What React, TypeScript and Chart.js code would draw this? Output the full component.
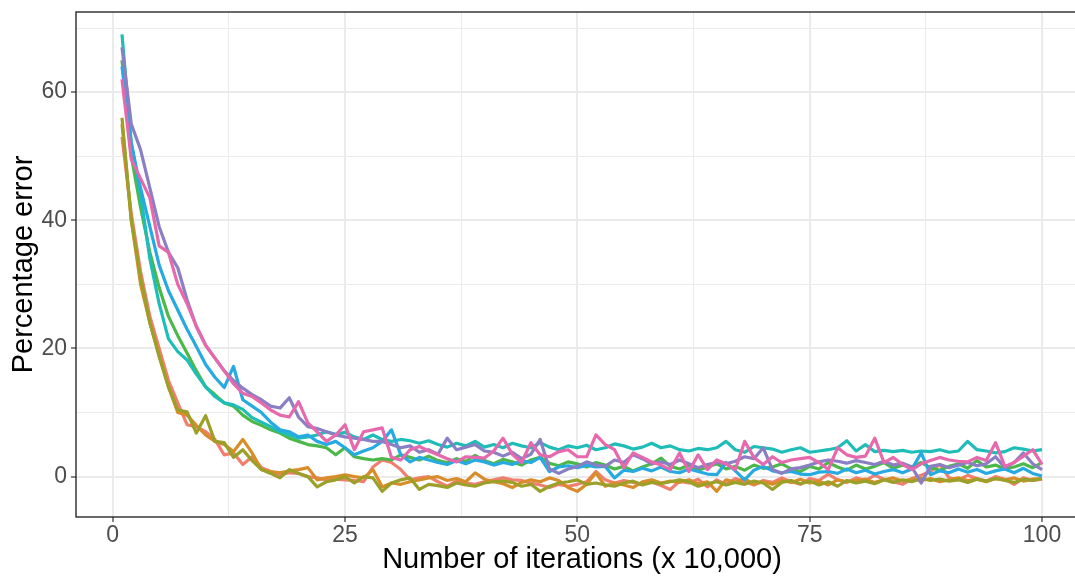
import React, { useEffect, useRef } from 'react';
import { Chart, registerables } from 'chart.js';

Chart.register(...registerables);

const iterations = [
  1, 2, 3, 4, 5, 6, 7, 8, 9, 10, 11, 12, 13, 14, 15, 16, 17, 18, 19, 20,
  21, 22, 23, 24, 25, 26, 27, 28, 29, 30, 31, 32, 33, 34, 35, 36, 37, 38, 39, 40,
  41, 42, 43, 44, 45, 46, 47, 48, 49, 50, 51, 52, 53, 54, 55, 56, 57, 58, 59, 60,
  61, 62, 63, 64, 65, 66, 67, 68, 69, 70, 71, 72, 73, 74, 75, 76, 77, 78, 79, 80,
  81, 82, 83, 84, 85, 86, 87, 88, 89, 90, 91, 92, 93, 94, 95, 96, 97, 98, 99, 100,
];

const runSalmon = [
  53, 41, 32, 25, 20, 15, 11.5, 8.1, 7.8, 7,
  5.8, 3.4, 3.7, 1.9, 3.1, 1.4, 0.8, 0.3, 0.6, 0.5,
  0, -0.2, -0.5, -0.4, -0.5, -0.6, -0.8, 1.5, 2.6, 2.2,
  1.1, -0.5, -0.2, 0, -0.8, -1.5, -0.7, -1, -1.2, -0.8,
  -0.5, -0.2, -0.5, -0.6, -1, -1.3, -1.7, -1.2, -1.5, -1.2,
  -0.8, 0.8, -0.5, -1, -0.6, -0.9, -1.2, -0.8, -1.4, -2,
  -0.7, -1, -0.4, -1.6, -0.5, -1.2, -0.3, -0.8, -1.3, -0.6,
  -0.9, -0.2, -0.8, -1.2, -0.3, -0.6, 0.4, -0.5, -0.9, -0.2,
  -0.6, 0.2, -0.4, -0.8, -1.2, -0.3, 0.2, 0.8, 1.9, -0.2,
  -0.5, 0.2, -0.3, -0.7, 0, -0.4, -1.2, -0.2, -0.6, -0.4,
];

const runOrange = [
  55, 40, 30, 24, 19, 14, 10, 9.6, 8, 6.5,
  5.5, 5, 3.9, 5.8, 3.7, 1.1, 0.8, 0.6, 0.9, 1.1,
  1.4, -0.5, -0.2, 0, 0.3, 0, -0.2, 1.1, -1.6, -1,
  -1.2, -0.8, -0.5, -0.2, 0, -0.6, -0.3, -0.8, 0.6, -0.4,
  -0.8, -1.1, -1.7, -0.9, -0.5, -0.8, -0.2, -0.6, -1.7, -2.3,
  -1.2, 0.6, -1.5, -1, -1.3, -1.7, -0.8, -0.5, -1, -0.7,
  -0.9, -0.5, -1.1, -0.8, -2.3, -0.5, -0.9, -0.3, -1.2, -0.8,
  -1.2, -0.6, -0.9, -0.4, -1, -0.7, -1.3, -0.5, -0.8, -0.6,
  -0.4, -0.9, -0.5, -0.2, -0.7, -0.4, -0.6, -0.3, -0.8, -0.5,
  -0.2, -0.6, -0.4, -0.8, -0.3, -0.5, -0.2, -0.7, -0.4, -0.3,
];

const runOlive = [
  56, 40, 31, 24, 18.7, 14, 10.4, 10.1, 6.8, 9.5,
  5.5, 5.3, 3, 4.2, 2.5, 1.1, 0.5, -0.2, 1.1, 0.5,
  0, -1.6, -0.8, -0.5, 0, -1, 0, -0.2, -2.3, -1,
  -0.5, -0.2, -2, -1.2, -1.4, -1.7, -1, -1.3, -1.5, -1,
  -0.8, -0.7, -0.9, -1.5, -1.2, -2.3, -1.5, -1, -0.8, -0.5,
  -1.2, -1, -1.3, -1.5, -1, -0.7, -1.3, -0.9, -1.1, -0.8,
  -0.5, -0.8, -1.5, -1.1, -0.8, -1.3, -0.9, -1.2, -0.7, -1,
  -2, -0.9, -0.6, -1.1, -0.7, -1.3, -0.8, -1.5, -0.6, -1,
  -0.7, -1.1, -0.5, -0.9, -0.5, -0.8, -0.3, -0.6, -0.4, -0.7,
  -0.5, -0.9, -0.4, -0.7, -0.3, -0.6, -0.9, -0.4, -0.6, -0.3,
];

const runGreen = [
  65, 50, 42, 35, 29.5, 25, 22, 19.3, 16.5, 14,
  12.8, 11.5, 11, 9.6, 8.6, 8, 7.3, 6.8, 6, 5.5,
  5, 4.8, 4.5, 3.4, 4.5, 3.1, 2.8, 2.6, 2.8, 2.6,
  3.4, 3, 2.6, 3.2, 2.5, 2.2, 2.8, 2.4, 3.3, 2.5,
  2, 2.7, 2.3, 1.8, 2.6, 3, 2.1, 1.7, 2.3, 2,
  1.5, 2.2, 1.8, 1.2, 1.6, 0.9, 1.5, 2, 2.9, 1.6,
  1.2, 1.8, 1, 1.5, 2, 1.2, 1.6, 1, 1.8, 1.3,
  1.5, 2, 1.2, 0.8, 1.6, 1.2, 2.2, 1.5, 1, 1.8,
  1.2, 1.6, 2.2, 1.3, 1.8, 1.5, 2.2, 1.4, 1, 1.6,
  2, 1.3, 2.5, 1.5, 1.8, 1.2, 1.5, 2, 1.4, 2.2,
];

const runTeal = [
  69, 52, 44, 34, 27, 21.5, 19.5, 18.2, 16, 14,
  12.5, 11.5, 11.2, 10.5, 9.2, 8.5, 7.8, 7, 6.5, 6,
  6.2, 6.5, 7, 6.6, 6.9, 6.2, 5.8, 6.5, 5.8, 5.5,
  5.8, 5.6, 5.2, 5.6, 5, 4.6, 5.2, 4.8, 5.5, 4.6,
  5, 4.5, 5.2, 4.8, 4.5, 5.3, 4.6, 4.2, 4.8, 4.5,
  4.9, 4.2, 4.5, 5.1, 4.8, 4.3, 4.6, 5.2, 4.5, 4.8,
  4.2, 4, 4.4, 4.2, 4.5, 5.5, 4.2, 3.8, 4.7, 4.5,
  4.3, 3.8, 4.2, 4.5, 3.8, 4, 4.2, 4.5, 5.6, 4,
  5, 3.9, 4.1, 3.9, 4.1, 3.8, 4, 3.9, 4.2, 3.8,
  4, 5.5, 4.2, 4, 3.7, 3.9, 4.5, 4.3, 4, 4.2,
];

const runBlue = [
  64, 52, 45, 39, 33, 29, 26, 23, 20.3, 17.5,
  15.5, 13.9, 17.2, 12, 11, 10, 8.5, 7.3, 7, 6.2,
  6.5, 5.5, 5, 5.5, 4.5, 3.4, 4, 4.5, 5.5, 7.3,
  3.4, 2.3, 3, 2.6, 2.2, 1.9, 2.5, 2, 2.6, 2.3,
  1.8, 2.2, 1.9, 2.5, 2.2, 3, 0.8, 1.5, 1.7, 1.4,
  1.8, 1.5, 1.6, -0.2, 1, 0.8, 1.3, 0.9, 1.5, 0.8,
  0.6, 1.2, 0.8, 0.4, 0.3, 2.2, 0.9, -0.5, 1, 1.6,
  0.9, 0.6, 0.8, 0.4, 0.3, 0.7, 0.8, 0.5, 1.2, 0.6,
  1, 0.4, 0.8, 1.1, 0.6, 1.2, 3.7, 0.3, 0.9, 0.6,
  1.2, 0.7, 1.1, 0.5, 0.9, 1.2, 0.6, 1.3, 0.5, 0.1,
];

const runPurple = [
  67, 55, 51, 45, 39, 35, 32.6, 27.6, 23.4, 20.5,
  18.5, 16.5, 15, 13.8, 12.8, 12, 11, 10.7, 12.3, 9.3,
  7.8, 7.5, 7, 6.5, 6.2, 6, 5.8, 5.5, 5.5, 5,
  4.5, 4.8, 3.8, 4.2, 3.5, 6, 4.2, 4.6, 5, 4,
  3.8, 3.2, 3.8, 2.8, 3.5, 5.8, 1.2, 0.5, 1.2, 1.6,
  2.3, 1.8, 1.6, 2.6, 2.2, 3.4, 2.8, 2, 2.3, 1.9,
  2.6, 2, 1.4, 1.9, 2.2, 2, 2.4, 3.1, 2.8, 4.5,
  1.1, 0.5, 1.2, 1.4, 1.8, 2.3, 2.6, 2.4, 2.1, 2.5,
  2.2, 1.9, 2.4, 1.8, 2.1, 1.5, -1, 1.6, 1.9, 1.4,
  1.8, 2.2, 1.7, 2, 3.1, 1.4, 2.2, 3.7, 2, 1.1,
];

const runPink = [
  62, 49.5, 46.5, 43.5, 36, 35, 30, 27, 23.5, 20.5,
  18.5, 16.5, 14.5, 13, 12.5, 11.5, 10.4, 9.6, 9.3, 11.7,
  8.4, 7, 5.5, 6.5, 8.1, 4.2, 7, 7.3, 7.6, 3,
  2.6, 4.2, 4.7, 4, 3.4, 2.8, 2.3, 3.1, 3, 2.9,
  4, 6, 3.5, 2.2, 5.3, 3.4, 3.1, 3.9, 4.2, 3.1,
  3.1, 6.5, 5, 4.2, 1.4, 3.7, 3, 2.3, 1.8, 1.1,
  3.7, 0.8, 3.4, 1.1, 2.6, 2, 1.1, 5.5, 3, 1.9,
  3.1, 2.2, 2.6, 2.8, 3, 2.2, 1.1, 4.5, 3.4, 3,
  3.2, 6, 2.2, 3, 1.9, 1.1, 2, 2.5, 3, 2.6,
  2.4, 2.3, 3, 2.5, 5.3, 1.6, 2.2, 3.2, 4.2, 1.9,
];

const seriesValues = [runSalmon, runOrange, runOlive, runGreen, runTeal, runBlue, runPurple, runPink];
const seriesLabels = ['run 1', 'run 2', 'run 3', 'run 4', 'run 5', 'run 6', 'run 7', 'run 8'];
const seriesColors = ['#F07F70', '#D98D2A', '#9BA028', '#4CB84A', '#1FBDB8', '#27A9E1', '#8A7FC4', '#E569AC'];

const xTickValues = [0, 12.5, 25, 37.5, 50, 62.5, 75, 87.5, 100];
const xMajorTicks = [0, 25, 50, 75, 100];
const yTickValues = [0, 10, 20, 30, 40, 50, 60, 70];
const yMajorTicks = [0, 20, 40, 60];

const FONT = '"Liberation Sans", Arial, Helvetica, sans-serif';

const panelBorder = {
  id: 'panelBorder',
  afterDraw(chart: any) {
    const { ctx, chartArea } = chart;
    ctx.save();
    ctx.strokeStyle = '#1A1A1A';
    ctx.lineWidth = 1.3;
    ctx.strokeRect(chartArea.left, chartArea.top, chartArea.right - chartArea.left, chartArea.bottom - chartArea.top);
    ctx.restore();
  },
};

export default function App() {
  const canvasRef = useRef<HTMLCanvasElement | null>(null);

  useEffect(() => {
    document.body.style.margin = '0';
    document.body.style.overflow = 'hidden';
    const canvas = canvasRef.current;
    if (!canvas) return;

    const datasets = seriesValues.map((vals, i) => ({
      label: seriesLabels[i],
      data: iterations.map((x, j) => ({ x, y: vals[j] })),
      borderColor: seriesColors[i],
      backgroundColor: seriesColors[i],
      borderWidth: 3.2,
      pointRadius: 0,
      tension: 0,
      fill: false,
      borderJoinStyle: 'round' as const,
      order: seriesValues.length - 1 - i,
    }));

    const gridOpts = (majors: number[]) => ({
      color: '#EBEBEB',
      lineWidth: (c: any) => (c.tick && majors.includes(c.tick.value) ? 2 : 1),
      tickColor: (c: any) => (c.tick && majors.includes(c.tick.value) ? '#333333' : 'rgba(0,0,0,0)'),
      tickWidth: 1.2,
      tickLength: 5,
      drawTicks: true,
    });

    const chart = new Chart(canvas, {
      type: 'line',
      data: { datasets },
      options: {
        animation: false,
        responsive: false,
        devicePixelRatio: 1,
        layout: { padding: { top: 12, right: 2, left: 0, bottom: 0 } },
        plugins: { legend: { display: false }, tooltip: { enabled: false } },
        scales: {
          x: {
            type: 'linear',
            min: -3.95,
            max: 104.95,
            afterFit: (s: any) => { s.height = 60; s.paddingLeft = 0; s.paddingRight = 0; },
            afterBuildTicks: (s: any) => { s.ticks = xTickValues.map((v) => ({ value: v })); },
            border: { display: false },
            grid: gridOpts(xMajorTicks),
            ticks: {
              autoSkip: false,
              maxRotation: 0,
              padding: 2,
              color: '#4D4D4D',
              font: { family: FONT, size: 23, lineHeight: 1 },
              callback: (v: any) => (xMajorTicks.includes(Number(v)) ? String(v) : ''),
            },
            title: {
              display: true,
              text: 'Number of iterations (x 10,000)',
              color: '#000000',
              font: { family: FONT, size: 29, lineHeight: 1 },
              padding: { top: 0, bottom: 2.5 },
            },
          },
          y: {
            type: 'linear',
            min: -6.3,
            max: 72.5,
            afterFit: (s: any) => { s.width = 76; s.paddingTop = 0; s.paddingBottom = 0; },
            afterBuildTicks: (s: any) => { s.ticks = yTickValues.map((v) => ({ value: v })); },
            border: { display: false },
            grid: gridOpts(yMajorTicks),
            ticks: {
              autoSkip: false,
              padding: 4,
              color: '#4D4D4D',
              font: { family: FONT, size: 23, lineHeight: 1 },
              callback: (v: any) => (yMajorTicks.includes(Number(v)) ? String(v) : ''),
            },
            title: {
              display: true,
              text: 'Percentage error',
              color: '#000000',
              font: { family: FONT, size: 29, lineHeight: 1 },
              padding: { top: 9.5, bottom: 0 },
            },
          },
        },
      },
      plugins: [panelBorder],
    });

    return () => chart.destroy();
  }, []);

  return (
    <div style={{ position: 'absolute', left: 0, top: 0, width: 1075, height: 577, overflow: 'hidden', background: '#ffffff' }}>
      <canvas ref={canvasRef} width={1090} height={577} style={{ display: 'block', width: 1090, height: 577 }} />
    </div>
  );
}
